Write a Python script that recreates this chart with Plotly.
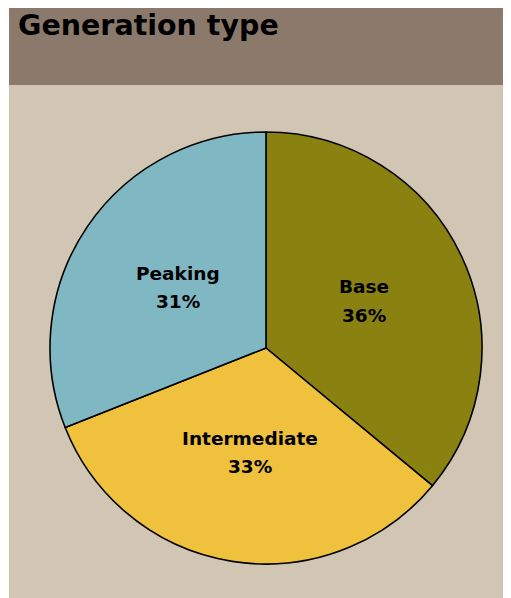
import plotly.graph_objects as go

categories = ["Base", "Intermediate", "Peaking"]
shares = [36, 33, 31]
colors = ["#8A8210", "#EFC13D", "#7FB8C3"]
title_text = "Generation type"

W, H = 511, 598
OFF = 8  # page body margin in front of the figure

def px(x):
    return (x - OFF) / W

def py(y):
    return 1 - (y - OFF) / H

cx, cy, r = 266, 348, 216

fig = go.Figure()
fig.add_trace(go.Pie(
    labels=categories,
    values=shares,
    sort=False,
    direction="clockwise",
    rotation=0,
    marker=dict(colors=colors, line=dict(color="black", width=1.6)),
    textinfo="none",
    hoverinfo="label+percent",
    showlegend=False,
    domain=dict(x=[px(cx - r), px(cx + r)], y=[py(cy + r), py(cy - r)]),
))

shapes = [
    dict(type="rect", xref="paper", yref="paper", x0=px(9), x1=1, y0=py(85), y1=1,
         fillcolor="#8B7A6B", line=dict(width=0), layer="below"),
    dict(type="rect", xref="paper", yref="paper", x0=px(9), x1=1, y0=0, y1=py(85),
         fillcolor="#D1C6B4", line=dict(width=0), layer="below"),
]

font_family = "DejaVu Sans, Verdana, sans-serif"
label_pos = {"Base": (364, 286, 315), "Intermediate": (250, 438, 466), "Peaking": (178, 274, 301)}
annotations = [
    dict(text="<b>" + title_text + "</b>", xref="paper", yref="paper", x=px(16), y=py(26),
         xanchor="left", yanchor="middle", showarrow=False,
         font=dict(family=font_family, size=28.5, color="black")),
]
for name, val in zip(categories, shares):
    x, y1, y2 = label_pos[name]
    annotations.append(dict(text="<b>" + name + "</b>", xref="paper", yref="paper", x=px(x), y=py(y1),
                            xanchor="center", yanchor="middle", showarrow=False,
                            font=dict(family=font_family, size=18.5, color="black")))
    annotations.append(dict(text="<b>%d%%</b>" % val, xref="paper", yref="paper", x=px(x), y=py(y2),
                            xanchor="center", yanchor="middle", showarrow=False,
                            font=dict(family=font_family, size=18.5, color="black")))

fig.update_layout(
    width=W, height=H,
    margin=dict(l=0, r=0, t=0, b=0),
    paper_bgcolor="white",
    plot_bgcolor="white",
    shapes=shapes,
    annotations=annotations,
)

fig.write_html("out.html")
